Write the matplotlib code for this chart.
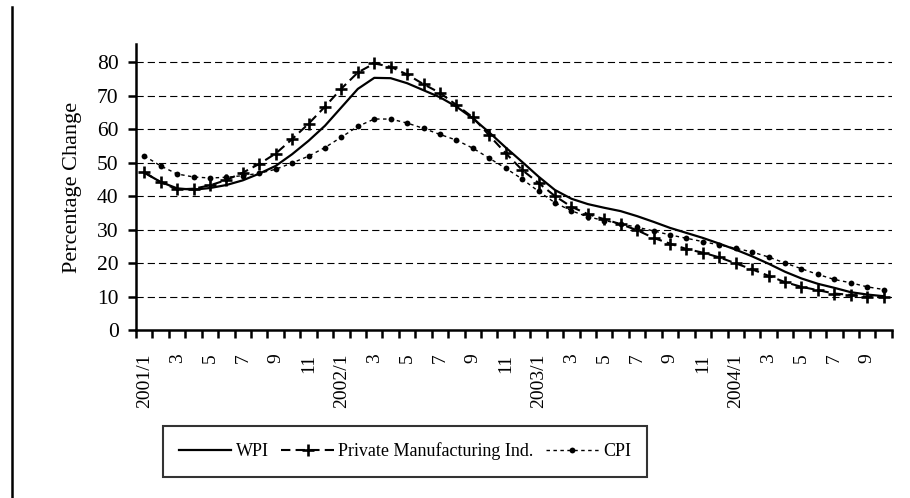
import matplotlib
matplotlib.use("Agg")
import matplotlib.pyplot as plt
from matplotlib.lines import Line2D

plt.rcParams['font.family'] = ['Liberation Serif', 'DejaVu Serif']

# monthly series, 2001/1 .. 2004/10
wpi = [47.0, 44.2, 42.3, 41.9, 42.4, 43.3, 44.7, 46.7, 49.0, 52.5, 56.5, 61.0,
       66.5, 72.0, 75.3, 75.2, 73.7, 71.6, 69.5, 66.7, 63.2, 59.0, 54.5, 50.2,
       45.8, 41.8, 39.2, 37.6, 36.5, 35.5, 34.0, 32.3, 30.5, 29.0, 27.5, 25.8,
       24.0, 22.0, 19.8, 17.4, 15.4, 13.8, 12.6, 11.3, 10.6, 10.1]
pmi = [47.1, 44.1, 42.0, 42.2, 43.2, 44.8, 47.0, 49.6, 52.7, 57.0, 61.6, 66.7,
       72.1, 76.9, 79.6, 78.6, 76.3, 73.4, 70.8, 67.2, 63.5, 58.1, 52.8, 47.8,
       43.9, 40.0, 36.8, 34.6, 33.1, 31.6, 29.8, 27.5, 25.8, 24.2, 23.1, 21.7,
       19.9, 18.1, 16.2, 14.3, 12.9, 11.9, 10.9, 10.5, 9.9, 9.8]
cpi = [52.0, 49.0, 46.6, 45.7, 45.4, 45.6, 46.1, 46.8, 48.0, 49.9, 51.9, 54.5,
       57.6, 60.8, 63.0, 63.0, 61.8, 60.2, 58.4, 56.7, 54.3, 51.3, 48.3, 45.1,
       41.4, 38.0, 35.6, 33.8, 32.7, 31.7, 30.7, 29.6, 28.4, 27.4, 26.4, 25.4,
       24.4, 23.3, 21.8, 20.0, 18.3, 16.6, 15.1, 14.1, 12.9, 12.1]

years = [2001, 2002, 2003, 2004]
last_month = 10

# category labels: "YYYY/1" for January, odd months as numbers, others blank
labels = []
for y in years:
    for m in range(1, 13):
        if y == years[-1] and m > last_month:
            break
        if m == 1:
            labels.append(f"{y}/1")
        elif m % 2 == 1:
            labels.append(str(m))
        else:
            labels.append("")

x = list(range(len(wpi)))

fig = plt.figure(figsize=(9.1, 4.98), dpi=100)
ax = fig.add_axes([0.1495, 0.3373, 0.8305, 0.5743])

# grid lines
for v in range(10, 90, 10):
    ax.axhline(v, color='black', lw=0.8, dashes=(6.5, 3.6), zorder=1)

ax.plot(x, wpi, color='black', lw=1.6, label='WPI', zorder=3)
ax.plot(x, pmi, color='black', lw=1.5, dashes=(4.5, 2.5), marker='+',
        markersize=8.5, markeredgewidth=1.9, label='Private Manufacturing Ind.', zorder=4)
ax.plot(x, cpi, color='black', lw=1.0, dashes=(2.5, 2.5), marker='o',
        markersize=4.2, markeredgewidth=0, label='CPI', zorder=5)

ax.set_xlim(-0.5, len(x) - 0.5)
ax.set_ylim(0, 85.4)

ax.spines['top'].set_visible(False)
ax.spines['right'].set_visible(False)
ax.spines['left'].set_linewidth(1.8)
ax.spines['bottom'].set_linewidth(1.8)

ax.set_yticks(range(0, 90, 10))
ax.tick_params(axis='y', direction='out', length=6, width=1.8, pad=6.5, labelsize=15.5)

# tick marks between categories, labels at category centres
ax.set_xticks([i - 0.5 for i in range(len(x) + 1)])
ax.set_xticklabels([])
ax.tick_params(axis='x', which='major', direction='out', length=6, width=1.8)
lab_pos = [i for i, l in enumerate(labels) if l]
ax.set_xticks(lab_pos, minor=True)
ax.set_xticklabels([labels[i] for i in lab_pos], minor=True, rotation=90, fontsize=14)
ax.tick_params(axis='x', which='minor', length=0, pad=17)

ax.set_ylabel('Percentage Change', fontsize=16, labelpad=11)

leg = fig.legend(loc='center', bbox_to_anchor=(0.445, 0.0934), ncol=3, fontsize=13,
                 frameon=True, fancybox=False, edgecolor='black', handlelength=2.9,
                 handletextpad=0.25, columnspacing=0.7, borderpad=0.9)
leg.get_frame().set_linewidth(1.5)

# page border line on the left
fig.add_artist(Line2D([0.013, 0.013], [0.0, 0.985], color='black', lw=1.8,
                      transform=fig.transFigure))

fig.savefig('out.png', dpi=100)
